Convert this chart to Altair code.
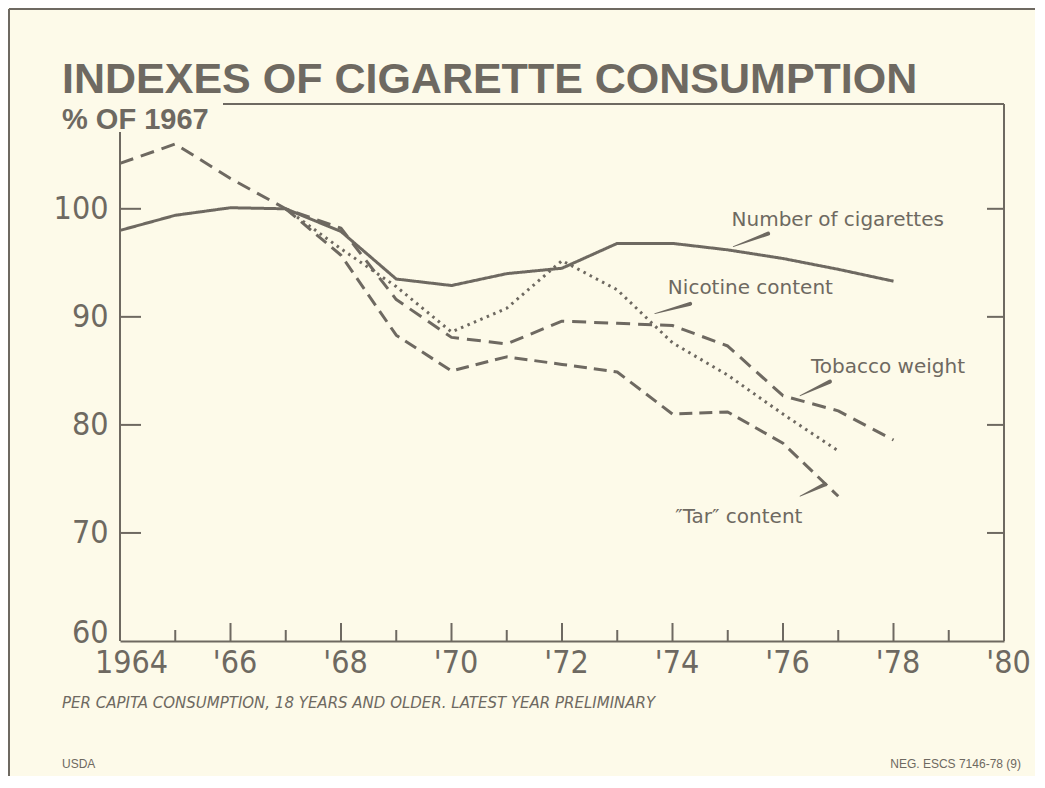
import json
import altair as alt
import pandas as pd

# ---------------- data ----------------
cig_years = list(range(1964, 1979))
cigarettes = [98.0, 99.4, 100.1, 100.0, 97.9, 93.5, 92.9, 94.0, 94.5, 96.8, 96.8, 96.2, 95.4, 94.4, 93.3]

tob_years = list(range(1964, 1979))
tobacco = [104.2, 106.0, 102.8, 100.0, 98.2, 91.6, 88.1, 87.5, 89.6, 89.4, 89.2, 87.3, 82.7, 81.3, 78.6]

nic_years = list(range(1967, 1978))
nicotine = [100.0, 96.3, 92.8, 88.6, 90.8, 95.2, 92.5, 87.6, 84.6, 81.0, 77.6]

tar_years = list(range(1967, 1978))
tar = [100.0, 95.7, 88.3, 85.0, 86.3, 85.6, 84.9, 81.0, 81.2, 78.3, 73.4]

series_names = ["Number of cigarettes", "Tobacco weight", "Nicotine content", "\u201cTar\u201d content"]
series_dash = [[1, 0], [14, 8], [2.5, 4.5], [13, 7]]

x_tick_values = [1964, 1966, 1968, 1970, 1972, 1974, 1976, 1978, 1980]
x_tick_labels = ["1964", "'66", "'68", "'70", "'72", "'74", "'76", "'78", "'80"]
x_minor_years = [1965, 1967, 1969, 1971, 1973, 1975, 1977, 1979]
x_major_years = [1966, 1968, 1970, 1972, 1974, 1976, 1978]
y_tick_values = [60, 70, 80, 90, 100]
y_inner_ticks = [70, 80, 90, 100]

# label positions (year, index value) for the series names
label_text = ["Number  of  cigarettes", "Nicotine  content", "Tobacco  weight", "\u2033Tar\u2033  content"]
label_year = [1976.99, 1975.41, 1977.9, 1975.2]
label_value = [99.0, 92.7, 85.4, 71.5]

# pointer wedges: start (on the line) and end (near the label)
ptr_year0 = [1975.10, 1973.68, 1976.31, 1976.31]
ptr_val0 = [96.5, 90.3, 82.7, 73.4]
ptr_year1 = [1975.73, 1974.32, 1976.85, 1976.76]
ptr_val1 = [97.7, 91.2, 84.0, 74.5]

title_text = "INDEXES OF CIGARETTE CONSUMPTION"
unit_text = "% OF 1967"
note_text = "PER CAPITA CONSUMPTION, 18 YEARS AND OLDER.  LATEST YEAR PRELIMINARY"
left_credit = "USDA"
right_credit = "NEG. ESCS 7146-78 (9)"

# ---------------- styling ----------------
INK = "#6e6961"
BG = "#fdfae9"
NARROW = "'Liberation Sans Narrow', 'DejaVu Sans Condensed', 'Liberation Sans', sans-serif"
SANS = "'Liberation Sans', Arial, sans-serif"
WIDE = "'DejaVu Sans', 'Liberation Sans', sans-serif"

W, H = 884, 537
PAD_L, PAD_T = 112, 96
TOTAL_W, TOTAL_H = 1027, 768

# ---------------- tables ----------------
rows = []
for name, yrs, vals in [
    (series_names[0], cig_years, cigarettes),
    (series_names[1], tob_years, tobacco),
    (series_names[2], nic_years, nicotine),
    (series_names[3], tar_years, tar),
]:
    for yv, v in zip(yrs, vals):
        rows.append({"series": name, "year": yv, "value": v})
lines_df = pd.DataFrame(rows)

xscale = alt.Scale(domain=[1964, 1980], nice=False, zero=False)
yscale = alt.Scale(domain=[60, 109.7], nice=False, zero=False)

lines = alt.Chart(lines_df).mark_line(strokeWidth=3, color=INK, strokeJoin="round").encode(
    x=alt.X(
        "year:Q",
        scale=xscale,
        axis=alt.Axis(
            values=x_tick_values,
            labelExpr=json.dumps(x_tick_labels) + "[(datum.value - 1964) / 2]",
            ticks=False,
            grid=False,
            domain=True,
            domainColor=INK,
            domainWidth=2,
            labelFont=NARROW,
            labelFontSize=32,
            labelColor=INK,
            labelPadding=6,
            labelFlush=False,
            labelBound=False,
            labelOverlap=False,
            labelOffset={"condition": {"test": "datum.value == 1964", "value": 11}, "value": 4},
            title=None,
        ),
    ),
    y=alt.Y(
        "value:Q",
        scale=yscale,
        axis=alt.Axis(
            values=y_tick_values,
            format="d",
            ticks=False,
            grid=False,
            domain=False,
            labelFont=NARROW,
            labelFontSize=32,
            labelColor=INK,
            labelPadding=12,
            labelFlush=False,
            labelOverlap=False,
            labelOffset={"condition": {"test": "datum.value == 60", "value": -9}, "value": 0},
            title=None,
        ),
    ),
    strokeDash=alt.StrokeDash(
        "series:N", scale=alt.Scale(domain=series_names, range=series_dash), legend=None
    ),
    detail="series:N",
)

# inward ticks on the bottom axis
major_df = pd.DataFrame({"yr": x_major_years})
minor_df = pd.DataFrame({"yr": x_minor_years})
major_ticks = alt.Chart(major_df).mark_rule(color=INK, strokeWidth=2).encode(
    x=alt.X("yr:Q", scale=xscale), y=alt.value(H), y2=alt.value(H - 18)
)
minor_ticks = alt.Chart(minor_df).mark_rule(color=INK, strokeWidth=2).encode(
    x=alt.X("yr:Q", scale=xscale), y=alt.value(H), y2=alt.value(H - 11)
)

ytick_df = pd.DataFrame({"v": y_inner_ticks})
left_ticks = alt.Chart(ytick_df).mark_rule(color=INK, strokeWidth=2).encode(
    y=alt.Y("v:Q", scale=yscale), x=alt.value(0), x2=alt.value(21)
)
right_ticks = alt.Chart(ytick_df).mark_rule(color=INK, strokeWidth=2).encode(
    y=alt.Y("v:Q", scale=yscale), x=alt.value(W - 17), x2=alt.value(W)
)

# frame lines of the plot
one = pd.DataFrame({"k": [0]})
left_axis = alt.Chart(one).mark_rule(color=INK, strokeWidth=2).encode(
    x=alt.value(0), y=alt.value(28), y2=alt.value(H)
)
top_border = alt.Chart(one).mark_rule(color=INK, strokeWidth=2).encode(
    x=alt.value(103), x2=alt.value(W), y=alt.value(0)
)
right_border = alt.Chart(one).mark_rule(color=INK, strokeWidth=2).encode(
    x=alt.value(W), y=alt.value(0), y2=alt.value(H)
)
# outer frame of the page
page_left = alt.Chart(one).mark_rule(color=INK, strokeWidth=2).encode(
    x=alt.value(-PAD_L + 1), y=alt.value(-PAD_T + 1), y2=alt.value(TOTAL_H - PAD_T)
)
page_top = alt.Chart(one).mark_rule(color=INK, strokeWidth=2).encode(
    x=alt.value(-PAD_L + 1), x2=alt.value(TOTAL_W - PAD_L), y=alt.value(-PAD_T + 1)
)

# series labels
lab_df = pd.DataFrame({"t": label_text, "yr": label_year, "v": label_value})
labels = alt.Chart(lab_df).mark_text(
    font=WIDE, fontSize=20, color=INK, align="center", baseline="middle"
).encode(x=alt.X("yr:Q", scale=xscale), y=alt.Y("v:Q", scale=yscale), text="t:N")

# pointer wedges
prow = []
for i in range(len(ptr_year0)):
    prow.append({"id": i, "yr": ptr_year0[i], "v": ptr_val0[i], "w": 0.8, "o": 0})
    prow.append({"id": i, "yr": ptr_year1[i], "v": ptr_val1[i], "w": 4.0, "o": 1})
ptr_df = pd.DataFrame(prow)
pointers = alt.Chart(ptr_df).mark_trail(color=INK).encode(
    x=alt.X("yr:Q", scale=xscale),
    y=alt.Y("v:Q", scale=yscale),
    size=alt.Size("w:Q", scale=None, legend=None),
    detail="id:N",
    order="o:Q",
)

# texts around the plot
def free_text(txt, x, y, size, font, align="left", style="normal", weight="normal"):
    return alt.Chart(pd.DataFrame({"t": [txt]})).mark_text(
        font=font, fontSize=size, color=INK, align=align, baseline="alphabetic",
        fontStyle=style, fontWeight=weight,
    ).encode(x=alt.value(x), y=alt.value(y), text="t:N")

title = free_text(title_text, -58, -11, 43, SANS, weight="bold")
unit = free_text(unit_text, -58, 25, 29, SANS, weight="bold")
note = free_text(note_text, -58, 604, 15, WIDE, style="italic")
usda = free_text(left_credit, -58, 664, 12, SANS)
neg = free_text(right_credit, TOTAL_W - PAD_L - 14, 664, 12, SANS, align="right")

chart = alt.layer(
    page_left, page_top,
    top_border, right_border, left_axis,
    major_ticks, minor_ticks, left_ticks, right_ticks,
    lines, pointers, labels,
    title, unit, note, usda, neg,
).properties(
    width=W,
    height=H,
    autosize="none",
    padding={"left": PAD_L, "top": PAD_T, "right": TOTAL_W - PAD_L - W, "bottom": TOTAL_H - PAD_T - H},
    background=BG,
).configure_view(stroke=None)

chart.save("out.html", embed_options={"renderer": "svg", "actions": False})
